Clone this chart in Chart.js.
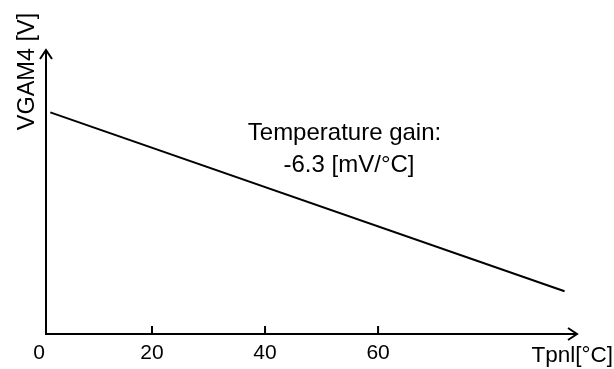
<!DOCTYPE html>
<html>
<head>
<meta charset="utf-8">
<script src="https://cdn.jsdelivr.net/npm/chart.js@4/dist/chart.umd.min.js"></script>
<style>
  html, body { margin: 0; padding: 0; background: #fff; }
  #wrap { width: 614px; height: 369px; position: relative; }
</style>
</head>
<body>
<div id="wrap"><canvas id="c"></canvas></div>
<script>
// Panel temperature (°C) vs. VGAM4 output (V)
const tempPoints = [2, 93];
const vgamValues = [0.710, 0.137];
const xTickLabels = [0, 20, 40, 60];
const xAxisTitle = 'Tpnl[°C]';
const yAxisTitle = 'VGAM4 [V]';
const noteLines = ['Temperature gain:', '-6.3 [mV/°C]'];

const FONT = '"Liberation Sans", Arial, sans-serif';

// Axes with open arrowheads, inward ticks and labels, drawn from the scales
const arrowAxes = {
  id: 'arrowAxes',
  afterDatasetsDraw(chart) {
    const { ctx, chartArea: a, scales: { x, y } } = chart;
    ctx.save();
    ctx.strokeStyle = '#000';
    ctx.fillStyle = '#000';
    ctx.lineWidth = 2;
    ctx.lineCap = 'butt';

    // axis lines
    ctx.beginPath();
    ctx.moveTo(a.left, a.top);
    ctx.lineTo(a.left, a.bottom);
    ctx.lineTo(a.right, a.bottom);
    ctx.stroke();

    // arrowheads
    const L = 9, W = 6;
    ctx.beginPath();
    ctx.moveTo(a.right - L, a.bottom - W);
    ctx.lineTo(a.right, a.bottom);
    ctx.lineTo(a.right - L, a.bottom + W);
    ctx.moveTo(a.left - W, a.top + L);
    ctx.lineTo(a.left, a.top);
    ctx.lineTo(a.left + W, a.top + L);
    ctx.stroke();

    // ticks and tick labels
    ctx.font = '21px ' + FONT;
    ctx.textAlign = 'center';
    ctx.textBaseline = 'alphabetic';
    xTickLabels.forEach(v => {
      const px = x.getPixelForValue(v);
      if (v >= x.min) {
        ctx.beginPath();
        ctx.moveTo(px, a.bottom);
        ctx.lineTo(px, a.bottom - 8);
        ctx.stroke();
      }
      ctx.fillText(String(v), px, a.bottom + 25);
    });

    // axis titles
    ctx.font = '22.5px ' + FONT;
    ctx.textAlign = 'right';
    ctx.fillText(xAxisTitle, chart.width - 1, 362);
    ctx.save();
    ctx.font = '23.5px ' + FONT;
    ctx.translate(33.5, 71.5);
    ctx.rotate(-Math.PI / 2);
    ctx.textAlign = 'center';
    ctx.fillText(yAxisTitle, 0, 0);
    ctx.restore();

    // gain note
    ctx.font = '24px ' + FONT;
    ctx.textAlign = 'center';
    ctx.fillText(noteLines[0], 344.5, 140);
    ctx.fillText(noteLines[1], 349, 172);
    ctx.restore();
  }
};

new Chart(document.getElementById('c'), {
  type: 'scatter',
  data: {
    datasets: [{
      data: tempPoints.map((t, i) => ({ x: t, y: vgamValues[i] })),
      showLine: true,
      borderColor: '#000',
      borderWidth: 2,
      pointRadius: 0,
      fill: false
    }]
  },
  options: {
    responsive: true,
    maintainAspectRatio: false,
    animation: false,
    layout: { padding: { left: 46, top: 50, right: 37, bottom: 35 } },
    plugins: { legend: { display: false }, tooltip: { enabled: false } },
    scales: {
      x: { type: 'linear', display: false, min: 1.24, max: 95.2 },
      y: { type: 'linear', display: false, min: 0, max: 0.91 }
    }
  },
  plugins: [arrowAxes]
});
</script>
</body>
</html>
